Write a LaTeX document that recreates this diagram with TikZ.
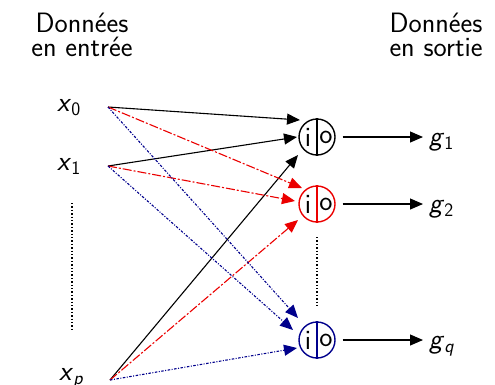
\documentclass[tikz,border=0pt]{standalone}
\usepackage{fontspec}
\usetikzlibrary{arrows.meta,calc}
\definecolor{myred}{RGB}{235,0,0}
\definecolor{myblue}{RGB}{0,0,140}
\newcommand\varlab[2]{\textit{#1}\raisebox{-0.35ex}{\fontsize{19}{19}\selectfont #2}}
\begin{document}
\begin{tikzpicture}[x=1pt,y=-1pt,
  font=\sffamily\fontsize{28}{24}\selectfont,
  conn/.style={line width=1.1pt,-{Triangle[length=13pt,width=11pt]}},
  neuron/.style={circle,draw,line width=1.4pt,minimum size=36pt,inner sep=0pt},
  reddash/.style={myred,dash pattern=on 9pt off 2pt on 2pt off 2pt},
  bluedot/.style={myblue,dash pattern=on 2.5pt off 1.5pt on 1pt off 1.5pt},
  vdots/.style={line width=1.6pt,dash pattern=on 1.4pt off 2pt},
  lbl/.style={anchor=base west,inner sep=0pt},
  head/.style={anchor=base,inner sep=0pt}]
\useasboundingbox (0,0) rectangle (495,384);
% headers
\node[head] (hin1) at (82,32) {Données};
\node[head] (hin2) at (82,56) {en entrée};
\node[head] (hout1) at (436,32) {Données};
\node[head] (hout2) at (436,56) {en sortie};
% inputs
\node[lbl] (x0) at (57,111) {\varlab{x}{0}};
\node[lbl] (x1) at (57,170) {\varlab{x}{1}};
\node[lbl] (xp) at (59,380) {\varlab{x}{\textit{p}}};
\coordinate (s0) at (108,107);
\coordinate (s1) at (108,166);
\coordinate (sp) at (110,380);
\coordinate (d1) at (72,203);
\coordinate (d2) at (72,330);
\draw[vdots] (d1) -- (d2);
% neurons
\foreach \n/\y/\c in {n1/137/black,n2/204/myred,n3/340/myblue}{
  \node[neuron,draw=\c] (\n) at (317,\y) {};
  \draw[\c,line width=1.4pt] (\n.north) -- (\n.south);
  \node[inner sep=0pt] (\n-i) at ($(\n)+(-9,0)$) {i};
  \node[inner sep=0pt] (\n-o) at ($(\n)+(9,0)$) {o};
}
\coordinate (e1) at (317,237);
\coordinate (e2) at (317,308);
\draw[vdots] (e1) -- (e2);
% outputs
\node[lbl] (g1) at (429,145) {\varlab{g}{1}};
\node[lbl] (g2) at (429,212) {\varlab{g}{2}};
\node[lbl] (gq) at (429,348) {\varlab{g}{\textit{q}}};
\draw[conn,shorten <=7pt,shorten >=6pt] (n1.east) -- (g1.west |- n1);
\draw[conn,shorten <=7pt,shorten >=6pt] (n2.east) -- (g2.west |- n2);
\draw[conn,shorten <=7pt,shorten >=6pt] (n3.east) -- (gq.west |- n3);
% black connections
\draw[conn] (s0) -- ($(n1)+(-17,-17)$);
\draw[conn] (s1) -- ($(n1)+(-20,0)$);
\draw[conn] (sp) -- ($(n1)+(-19,18)$);
% red connections
\draw[conn,reddash] (s0) -- ($(n2)+(-15,-16)$);
\draw[conn,reddash] (s1) -- ($(n2)+(-22,-3)$);
\draw[conn,reddash] (sp) -- ($(n2)+(-19,16)$);
% blue connections
\draw[conn,bluedot] (s0) -- ($(n3)+(-19,-22)$);
\draw[conn,bluedot] (s1) -- ($(n3)+(-24,-10)$);
\draw[conn,bluedot] (sp) -- ($(n3)+(-20,8)$);
\end{tikzpicture}
\end{document}
